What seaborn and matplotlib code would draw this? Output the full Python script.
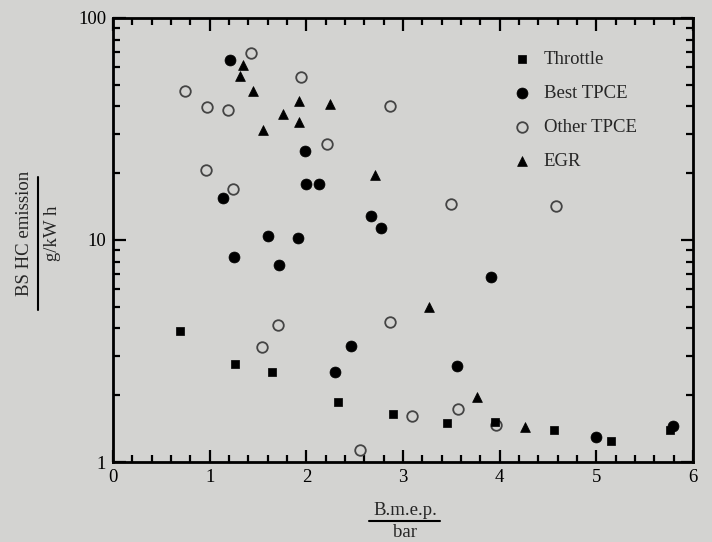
import matplotlib
matplotlib.use('Agg')
import matplotlib.pyplot as plt
import matplotlib.ticker as mticker
from matplotlib.lines import Line2D
import pandas as pd
import seaborn as sns

# values
throttle_x = [0.69, 1.26, 1.64, 2.33, 2.90, 3.46, 3.95, 4.56, 5.15, 5.76]
throttle_y = [3.9, 2.76, 2.54, 1.86, 1.64, 1.50, 1.51, 1.39, 1.24, 1.39]

best_x = [1.21, 1.99, 2.00, 2.13, 1.14, 2.67, 2.77, 1.60, 1.91, 1.25, 1.72,
          2.46, 2.30, 3.91, 3.56, 5.00, 5.79]
best_y = [64.7, 25.2, 17.9, 17.9, 15.5, 12.8, 11.3, 10.4, 10.2, 8.4, 7.7,
          3.33, 2.54, 6.8, 2.71, 1.30, 1.45]

other_x = [1.43, 1.95, 0.75, 0.97, 1.19, 2.87, 2.21, 0.96, 1.24, 3.50, 4.58,
           1.71, 2.87, 1.54, 2.56, 3.09, 3.57, 3.96]
other_y = [69.6, 54.2, 46.9, 39.7, 38.5, 40.1, 27.1, 20.7, 17.0, 14.5, 14.2,
           4.14, 4.27, 3.30, 1.13, 1.61, 1.73, 1.47]

egr_x = [1.35, 1.31, 1.45, 1.92, 2.24, 1.76, 1.92, 1.55, 2.71, 3.27, 3.77, 4.26]
egr_y = [61.4, 54.8, 46.9, 42.3, 41.0, 36.9, 34.0, 31.3, 19.6, 5.0, 1.96, 1.44]

series = ['Throttle', 'Best TPCE', 'Other TPCE', 'EGR']

bg = '#d3d3d1'

sns.set_style('ticks')
plt.rcParams['font.family'] = ['Liberation Serif', 'DejaVu Serif']

datos = pd.concat([
    pd.DataFrame({'bmep': throttle_x, 'hc': throttle_y, 'Type': 'Throttle'}),
    pd.DataFrame({'bmep': best_x, 'hc': best_y, 'Type': 'Best TPCE'}),
    pd.DataFrame({'bmep': other_x, 'hc': other_y, 'Type': 'Other TPCE'}),
    pd.DataFrame({'bmep': egr_x, 'hc': egr_y, 'Type': 'EGR'}),
])

fig = plt.figure(figsize=(7.12, 5.42), dpi=100, facecolor=bg)
ax = fig.add_axes([0.1587, 0.1476, 0.8146, 0.8192])
ax.set_facecolor(bg)

estilos = {
    'Throttle': dict(marker='s', s=38, color='black', edgecolor='black', linewidth=0.5, zorder=4),
    'Best TPCE': dict(marker='o', s=62, color='black', edgecolor='black', linewidth=0.5, zorder=5),
    'Other TPCE': dict(marker='o', s=58, color=bg, edgecolor='#444444', linewidth=1.3, zorder=3),
    'EGR': dict(marker='^', s=50, color='black', edgecolor='black', linewidth=0.5, zorder=3),
}
for t in series:
    sns.scatterplot(data=datos[datos['Type'] == t], x='bmep', y='hc', ax=ax,
                    label=t, **estilos[t])

ax.set_yscale('log')
ax.set_xlim(0, 6)
ax.set_ylim(1, 100)
ax.xaxis.set_major_locator(mticker.MultipleLocator(1))
ax.xaxis.set_minor_locator(mticker.MultipleLocator(0.2))
ax.yaxis.set_major_locator(mticker.LogLocator(base=10))
ax.yaxis.set_minor_locator(mticker.LogLocator(base=10, subs=range(2, 10)))
ax.yaxis.set_major_formatter(mticker.FuncFormatter(lambda v, p: '%d' % v))
ax.yaxis.set_minor_formatter(mticker.NullFormatter())
ax.tick_params(which='both', direction='in', top=True, right=True, width=1.6,
               labelsize=13.5, colors='black')
ax.tick_params(which='major', length=9, pad=5)
ax.tick_params(which='minor', length=5)
for sp in ax.spines.values():
    sp.set_linewidth(2)
    sp.set_color('black')
ax.set_xlabel('')
ax.set_ylabel('')

leg = ax.legend(loc='upper left', bbox_to_anchor=(0.673, 0.942), frameon=False,
                fontsize=13.5, labelspacing=0.9, handletextpad=0.55,
                borderaxespad=0, handlelength=1.2)

# fraction style axis labels
fig.text(0.035, 0.57, 'BS HC emission', rotation=90, ha='center', va='center', fontsize=13.5)
fig.text(0.074, 0.57, 'g/kW h', rotation=90, ha='center', va='center', fontsize=13.5)
fig.add_artist(Line2D([0.053, 0.053], [0.428, 0.673], color='black', lw=1.5,
                      transform=fig.transFigure))
fig.text(0.569, 0.059, 'B.m.e.p.', ha='center', va='center', fontsize=13.5)
fig.text(0.569, 0.018, 'bar', ha='center', va='center', fontsize=13.5)
fig.add_artist(Line2D([0.518, 0.618], [0.0387, 0.0387], color='black', lw=1.5,
                      transform=fig.transFigure))

fig.savefig('out.png', dpi=100, facecolor=bg)
